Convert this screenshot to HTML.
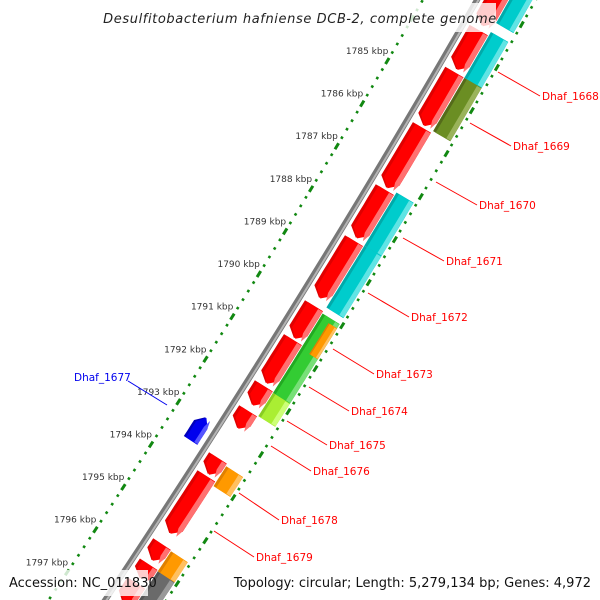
<!DOCTYPE html>
<html><head><meta charset="utf-8"><style>
html,body{margin:0;padding:0;background:#fff;width:600px;height:600px;overflow:hidden}
svg{display:block;font-family:"DejaVu Sans","Liberation Sans",sans-serif}
</style></head><body>
<svg id="c" width="600" height="600" viewBox="0 0 600 600">
<g id="ticks"></g>
<g id="genes"></g>
<g id="labels"></g>
<g id="overlay"></g>
</svg>
<script>
// ---- data ----
const tickKbp = [1780,1781,1782,1783,1784,1785,1786,1787,1788,1789,1790,1791,1792,1793,1794,1795,1796,1797,1798,1799];
const tickLabelKbp = [1785,1786,1787,1788,1789,1790,1791,1792,1793,1794,1795,1796,1797];
const geneStart = [1781.8,1783.53,1784.51,1785.80,1787.25,1788.44,1789.96,1790.75,1791.83,1792.41,1793.51,1793.93,1795.52,1795.99,1796.43,
                   1781.6,1783.44,1784.51,1787.18,1788.42,1790.0,1790.10,1791.85,1793.56,1795.54,1796.01,1792.97];
const geneEnd   = [1783.42,1784.44,1785.75,1787.20,1788.37,1789.77,1790.71,1791.76,1792.27,1792.81,1793.88,1795.26,1795.89,1796.31,1796.90,
                   1783.23,1784.51,1785.75,1788.42,1789.86,1791.85,1790.82,1792.39,1794.02,1796.01,1796.9,1793.51];
const geneLane  = ['r','r','r','r','r','r','r','r','r','r','r','r','r','r','r',
                   'c','c','c','c','c','c','o','c','c','c','c','b'];
const geneColor = ['red','red','red','red','red','red','red','red','red','red','red','red','red','red','red',
                   'cyan','cyan','olive','cyan','cyan','green','orange','lime','orange','orange','grey','blue'];
const labelText = ['Dhaf_1668','Dhaf_1669','Dhaf_1670','Dhaf_1671','Dhaf_1672','Dhaf_1673','Dhaf_1674','Dhaf_1675','Dhaf_1676','Dhaf_1678','Dhaf_1679','Dhaf_1677'];
const labelX = [542,513,479,446,411,376,351,329,313,281,256,74];
const labelY = [100,150,209,265,321,378,415,449,475,524,561,381];
const lineFrom = [[498,72],[470,123],[436,182],[403,238],[368,293],[333,349],[309,387],[287,421],[271,446],[239,493],[214,531],[167,405]];

// ---- geometry ----
const NS='http://www.w3.org/2000/svg';
function S(k){return 256+42.8*(k-1789);}
function G(s){return [477-0.573*s-7.78e-5*s*s, s];}
function N(s){const dx=-0.573-2*7.78e-5*s;const L=Math.hypot(1,dx);return [1/L,-dx/L];}
function T(s){const dx=-0.573-2*7.78e-5*s;const L=Math.hypot(1,dx);return [dx/L,1/L];}
function P(s,d){const g=G(s),n=N(s);return [g[0]+d*n[0],g[1]+d*n[1]];}
function el(tag,attrs,parent){const e=document.createElementNS(NS,tag);for(const k in attrs)e.setAttribute(k,attrs[k]);parent.appendChild(e);return e;}
const ticks=document.getElementById('ticks'),genes=document.getElementById('genes'),labels=document.getElementById('labels'),overlay=document.getElementById('overlay');

// grey backbone
let pts=[];for(let s=-10;s<=640;s+=10){pts.push(P(s,0).join(','));}
let bb=el('polyline',{points:pts.join(' '),fill:'none',stroke:'#777','stroke-width':6},genes);


pts=[];for(let s=-10;s<=640;s+=10){pts.push(P(s,1.2).join(','));}
el('polyline',{points:pts.join(' '),fill:'none',stroke:'#b5b5b5','stroke-width':2},genes);

// ruler dots & dashes
const D_LEFT=-47,D_RIGHT=51;
for(let i=0;i<tickKbp.length-1;i++){
  for(let j=0;j<5;j++){
    const k=tickKbp[i]+j*0.2, s=S(k), t=T(s);
    const len=j===0?7:2.6, w=j===0?3:2.6;
    [D_LEFT,D_RIGHT].forEach(d=>{
      const p=P(s,d);
      const m=el('line',{x1:p[0]-t[0]*len/2,y1:p[1]-t[1]*len/2,x2:p[0]+t[0]*len/2,y2:p[1]+t[1]*len/2,stroke:'#118811','stroke-width':w},ticks);
      
      
    });
  }
}
tickLabelKbp.forEach(k=>{
  const p=P(S(k),D_LEFT);
  const tx=el('text',{x:p[0]+1,y:p[1]-7,'text-anchor':'end','font-size':9,fill:'#333'},ticks);
  tx.textContent=k+' kbp';
  
  
});

// genes
const PAL={red:['#e00000','#ff0000','#ff7070'],cyan:['#00aaaa','#00cccc','#60e4e4'],olive:['#556b1a','#6b8e23','#9ab35a'],
  green:['#22aa22','#33cc33','#77e077'],orange:['#e08000','#ff9900','#ffc060'],lime:['#88cc22','#aaee33','#ccff77'],
  grey:['#555','#6a6a6a','#999'],blue:['#0000bb','#0000ee','#5555ff']};
const LANES={r:[6,27,'fwd'],c:[28,48,null],o:[38,48,null],b:[-24,-8,'rev']};
function shape(s1,s2,d1,d2,arrow){
  const tip=Math.min(7,(s2-s1)*0.45), a=[], b=[];
  let e1=s1,e2=s2;
  if(arrow==='fwd')e2=s2-tip; if(arrow==='rev')e1=s1+tip;
  const n=Math.max(2,Math.ceil((e2-e1)/8));
  for(let i=0;i<=n;i++){const s=e1+(e2-e1)*i/n;a.push(P(s,d1));b.push(P(s,d2));}
  const out=[...a];
  if(arrow==='fwd')out.push(P(s2,(d1+d2)/2));
  out.push(...b.reverse());
  if(arrow==='rev')out.push(P(s1,(d1+d2)/2));
  return out.map(p=>p[0].toFixed(1)+','+p[1].toFixed(1)).join(' ');
}
for(let i=0;i<geneStart.length;i++){
  const s1=S(geneStart[i]),s2=S(geneEnd[i]);
  const L=LANES[geneLane[i]],c=PAL[geneColor[i]];
  const g=el('g',{},genes);
  
  
  const d1=L[0],d2=L[1],w=d2-d1;
  el('polygon',{points:shape(s1,s2,d1,d2,L[2]),fill:c[0]},g);
  el('polygon',{points:shape(s1,s2,d1+w*0.15,d2,L[2]),fill:c[1]},g);
  el('polygon',{points:shape(s1+0.5,s2-0.5,d2-w*0.25,d2,L[2]?L[2]:null),fill:c[2]},g);
}

// labels
for(let i=0;i<labelText.length;i++){
  const blue=labelText[i]==='Dhaf_1677';
  const col=blue?'#0000ee':'#ff0000';
  const lx=blue?128:labelX[i]-2, ly=blue?381:labelY[i]-4;
  const ln=el('line',{x1:lineFrom[i][0],y1:lineFrom[i][1],x2:lx,y2:ly,stroke:col,'stroke-width':1},labels);
  
  
  const t=el('text',{x:labelX[i],y:labelY[i],'font-size':10.5,fill:col},labels);
  t.textContent=labelText[i];
  
  
}

// overlays
let r=el('rect',{x:104,y:3,width:392,height:29,fill:'rgba(255,255,255,0.8)'},overlay);


let t=el('text',{x:300,y:23,'text-anchor':'middle','font-size':13,'font-style':'italic',fill:'#222','letter-spacing':'0.6'},overlay);
t.textContent='Desulfitobacterium hafniense DCB-2, complete genome';


r=el('rect',{x:5,y:570,width:143,height:26,fill:'rgba(255,255,255,0.8)'},overlay);


t=el('text',{x:9,y:587,'font-size':13,fill:'#111'},overlay);
t.textContent='Accession: NC_011830';


t=el('text',{x:591,y:587,'text-anchor':'end','font-size':13,fill:'#111'},overlay);
t.textContent='Topology: circular; Length: 5,279,134 bp; Genes: 4,972';


</script>
</body></html>
